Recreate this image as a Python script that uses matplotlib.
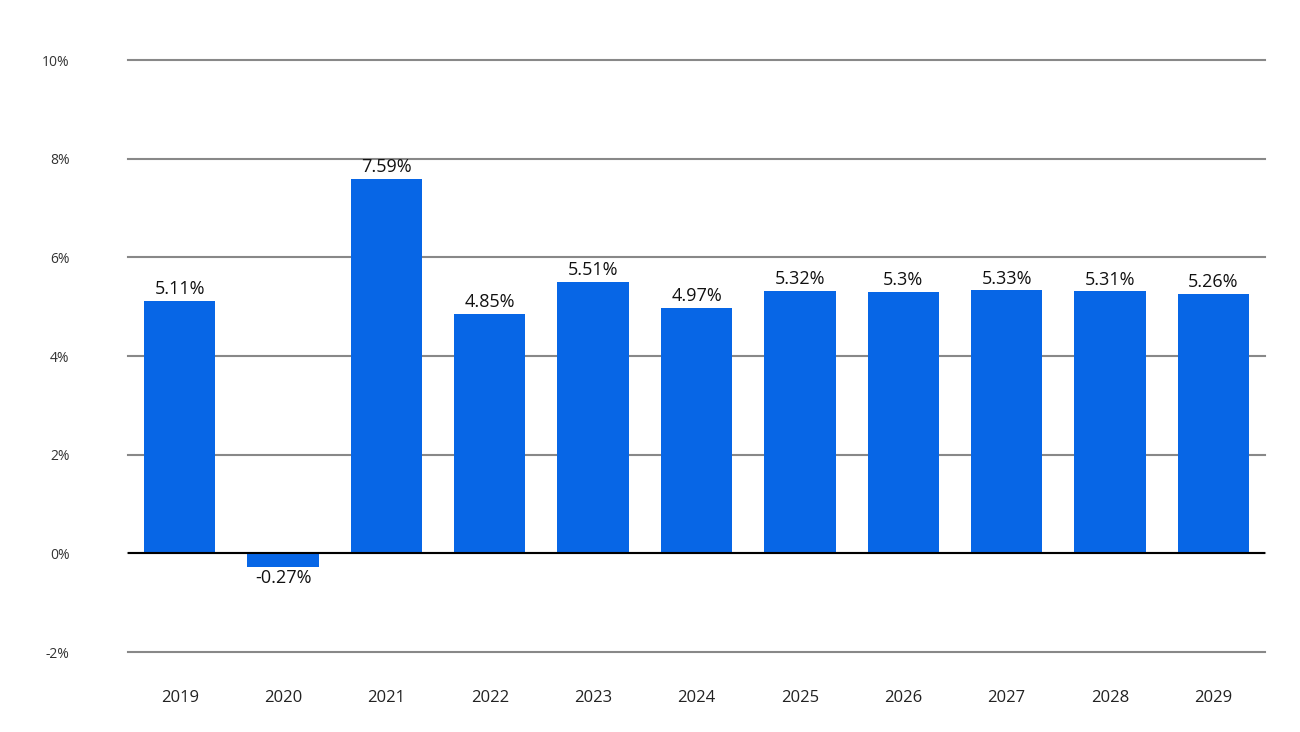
import matplotlib
matplotlib.use("Agg")
import matplotlib.pyplot as plt

years = ["2019", "2020", "2021", "2022", "2023", "2024", "2025", "2026", "2027", "2028", "2029"]
growth = [5.11, -0.27, 7.59, 4.85, 5.51, 4.97, 5.32, 5.3, 5.33, 5.31, 5.26]
labels = ["5.11%", "-0.27%", "7.59%", "4.85%", "5.51%", "4.97%", "5.32%", "5.3%", "5.33%", "5.31%", "5.26%"]
yticks = [-2, 0, 2, 4, 6, 8, 10]

plt.rcParams['font.family'] = ['Open Sans', 'DejaVu Sans']

fig = plt.figure(figsize=(13, 7.32), dpi=100)
ax = fig.add_axes([128 / 1300, 80 / 732, 1137 / 1300, 592 / 732])

x = list(range(len(years)))
ax.bar(x, growth, width=0.69, color="#0766e6", zorder=3)

for xi, v, lab in zip(x, growth, labels):
    if v >= 0:
        ax.annotate(lab, (xi, v), xytext=(0, 2), textcoords="offset points",
                    ha="center", va="bottom", fontsize=13, color="#111111")
    else:
        ax.annotate(lab, (xi, v), xytext=(0, -2), textcoords="offset points",
                    ha="center", va="top", fontsize=13, color="#111111")

ax.set_xlim(-0.5, len(years) - 0.5)
ax.set_ylim(-2, 10)
ax.set_yticks(yticks)
ax.set_yticklabels([f"{t}%" for t in yticks], fontsize=10, color="#333333")
ax.set_xticks(x)
ax.set_xticklabels(years, fontsize=12, color="#222222")
ax.grid(axis="y", color="#888888", linewidth=1.5, zorder=0)
for gl in ax.get_ygridlines():
    gl.set_clip_on(False)
ax.axhline(0, color="black", linewidth=1.5, zorder=4)
ax.tick_params(axis="both", length=0)
ax.tick_params(axis="y", pad=42)
ax.tick_params(axis="x", pad=27)
for s in ax.spines.values():
    s.set_visible(False)

fig.savefig("out.png", dpi=100)
